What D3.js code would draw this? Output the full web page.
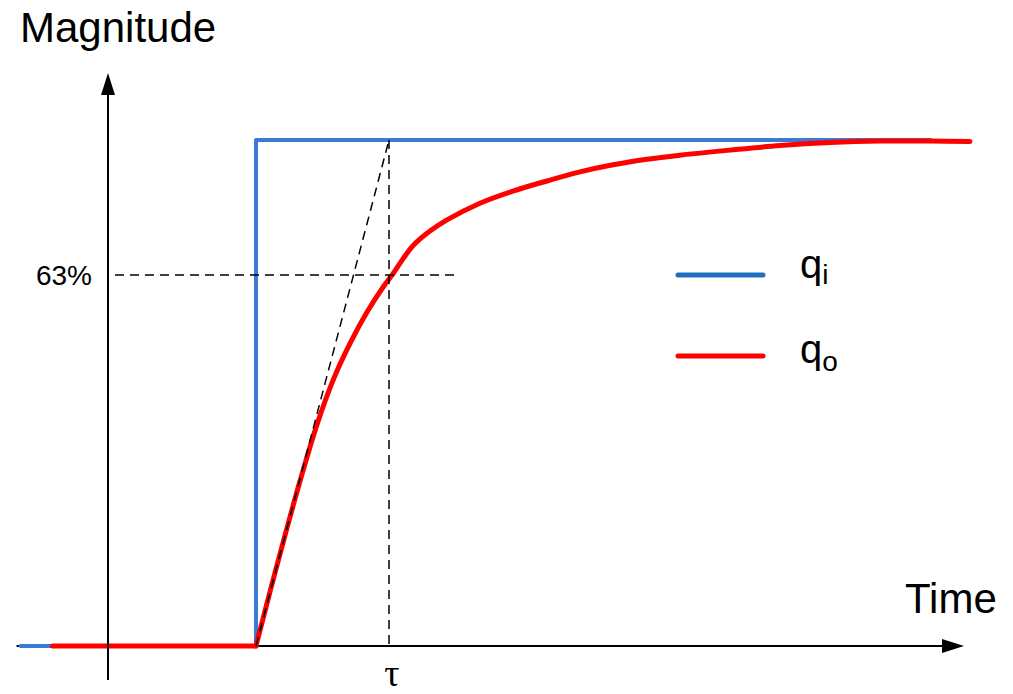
<!DOCTYPE html>
<html>
<head>
<meta charset="utf-8">
<script src="https://cdn.jsdelivr.net/npm/d3@7"></script>
<style>
  body { margin: 0; background: #fff; }
  svg text { font-family: "Liberation Sans", Arial, sans-serif; fill: #000; }
</style>
</head>
<body>
<div id="chart"></div>
<script>
// step input q_i (time in units of tau, magnitude as fraction of final value)
const stepTimes = [-1.77, 0, 0, 5.07];
const stepValues = [0, 0, 1, 1];

// first order response q_o
const flatTimes = [-1.53, 0];
const flatValues = [0, 0];
const responseTimes = [0, 0.105, 0.203, 0.331, 0.459, 0.579, 0.707, 0.835, 0.955, 1.023, 1.105,
  1.18, 1.308, 1.436, 1.684, 1.932, 2.188, 2.436, 2.684, 2.94, 3.188, 3.564, 3.94, 4.316, 4.692,
  5.068, 5.368];
const responseValues = [0, 0.107, 0.204, 0.326, 0.438, 0.525, 0.598, 0.660, 0.709, 0.733, 0.765,
  0.791, 0.820, 0.842, 0.875, 0.899, 0.919, 0.937, 0.951, 0.962, 0.970, 0.980, 0.989, 0.995, 0.998,
  0.998, 0.997];

const tau = 1;
const markLevel = 0.733;
const markLabel = '63%';
const legendNames = ['q', 'q'];
const legendSubs = ['i', 'o'];

const width = 1013, height = 694;
const blueStep = '#3a7bd5', blueKey = '#1f6fc0', red = '#ff0000';

const svg = d3.select('#chart').append('svg')
  .attr('width', width)
  .attr('height', height);

const x = d3.scaleLinear().domain([0, tau]).range([256, 389]);
const y = d3.scaleLinear().domain([0, 1]).range([646, 140]);

const line = d3.line()
  .x(d => x(d[0]))
  .y(d => y(d[1]));

function arrow(tipX, tipY, dir) {
  const len = 22, half = 7;
  const pts = dir === 'up'
    ? [[tipX, tipY], [tipX - half, tipY + len], [tipX + half, tipY + len]]
    : [[tipX, tipY], [tipX - len, tipY - half], [tipX - len, tipY + half]];
  svg.append('path')
    .attr('d', 'M' + pts.join('L') + 'Z')
    .attr('fill', '#000');
}

// x axis (under the curves)
svg.append('line')
  .attr('x1', x(-1.8)).attr('x2', 944)
  .attr('y1', y(0)).attr('y2', y(0))
  .attr('stroke', '#000').attr('stroke-width', 2);
arrow(964, y(0), 'right');

// q_i step
svg.append('path')
  .datum(d3.zip(stepTimes, stepValues))
  .attr('d', line)
  .attr('fill', 'none')
  .attr('stroke', blueStep)
  .attr('stroke-width', 4)
  .attr('stroke-linecap', 'round')
  .attr('stroke-linejoin', 'round');

// q_o response
svg.append('path')
  .datum(d3.zip(flatTimes, flatValues))
  .attr('d', line)
  .attr('fill', 'none')
  .attr('stroke', red)
  .attr('stroke-width', 5)
  .attr('stroke-linecap', 'round');

svg.append('path')
  .datum(d3.zip(responseTimes, responseValues))
  .attr('d', line.curve(d3.curveCatmullRom.alpha(0.5)))
  .attr('fill', 'none')
  .attr('stroke', red)
  .attr('stroke-width', 5)
  .attr('stroke-linecap', 'round')
  .attr('stroke-linejoin', 'round');

// y axis
svg.append('line')
  .attr('x1', 108).attr('x2', 108)
  .attr('y1', 680).attr('y2', 94)
  .attr('stroke', '#000').attr('stroke-width', 2);
arrow(108, 73, 'up');

// tau construction lines
const dashed = [
  [[0, 0], [tau, 1]],
  [[tau, 1], [tau, 0]],
  [[-1.06, markLevel], [1.52, markLevel]]
];
svg.append('g')
  .selectAll('path')
  .data(dashed)
  .join('path')
  .attr('d', d3.line().x(d => x(d[0])).y(d => y(d[1])))
  .attr('fill', 'none')
  .attr('stroke', '#000')
  .attr('stroke-width', 1.5)
  .attr('stroke-dasharray', '9,6');

// labels
svg.append('text')
  .attr('x', 20).attr('y', 42)
  .style('font-size', '42px')
  .text('Magnitude');

svg.append('text')
  .attr('x', 905).attr('y', 613)
  .style('font-size', '42px')
  .text('Time');

svg.append('text')
  .attr('x', 92).attr('y', y(markLevel) + 10)
  .attr('text-anchor', 'end')
  .style('font-size', '28px')
  .text(markLabel);

svg.append('text')
  .attr('x', x(tau) + 3).attr('y', 686)
  .attr('text-anchor', 'middle')
  .style('font-family', '"Liberation Serif", "Times New Roman", serif')
  .style('font-size', '38px')
  .text('τ');

// legend
const legendY = [275, 356];
const legendColors = [blueKey, red];
const key = svg.append('g')
  .selectAll('g')
  .data(legendNames)
  .join('g')
  .attr('transform', (d, i) => `translate(0,${legendY[i]})`);

key.append('line')
  .attr('x1', 678).attr('x2', 763)
  .attr('stroke', (d, i) => legendColors[i])
  .attr('stroke-width', 5)
  .attr('stroke-linecap', 'round');

const keyText = key.append('text')
  .attr('x', 800).attr('y', (d, i) => i === 0 ? 3 : 7)
  .style('font-size', '40px');
keyText.append('tspan').text(d => d);
keyText.append('tspan')
  .attr('dy', (d, i) => i === 0 ? 6 : 8)
  .style('font-size', '28px')
  .text((d, i) => legendSubs[i]);
</script>
</body>
</html>
